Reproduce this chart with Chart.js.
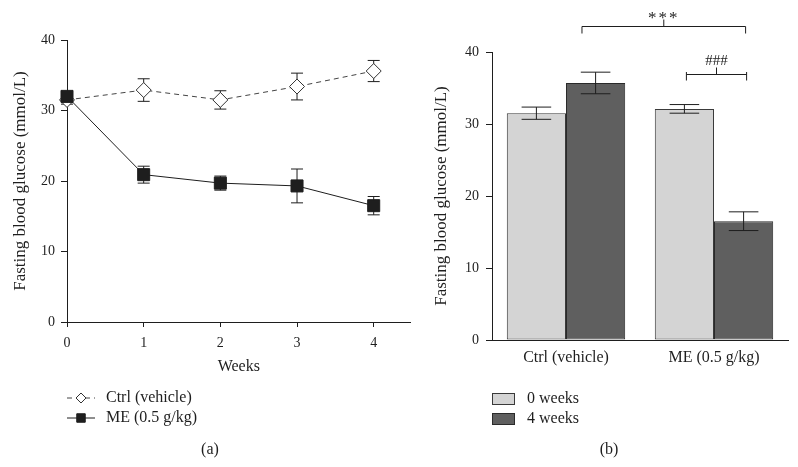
<!DOCTYPE html>
<html>
<head>
<meta charset="utf-8">
<script src="https://cdn.jsdelivr.net/npm/chart.js@4.4.0/dist/chart.umd.min.js"></script>
<style>
	html, body { margin: 0; padding: 0; background: #fff; }
	#wrap { position: relative; width: 798px; height: 467px; overflow: hidden; }
	#lineChart { position: absolute; left: 0; top: 0; }
	#barChart { position: absolute; left: 420px; top: 0; }
</style>
</head>
<body>
<div id="wrap">
	<canvas id="lineChart" width="420" height="467"></canvas>
	<canvas id="barChart" width="378" height="467"></canvas>
</div>
<script>
// panel (a): glucose over time
var weeks = [0, 1, 2, 3, 4];
var ctrlMean = [31.5, 32.9, 31.5, 33.4, 35.6];
var ctrlErr = [0.6, 1.6, 1.3, 1.9, 1.5];
var meMean = [32.0, 20.9, 19.7, 19.3, 16.5];
var meErr = [0.7, 1.2, 1.0, 2.4, 1.3];
var lineLabels = ['Ctrl (vehicle)', 'ME (0.5 g/kg)'];

// panel (b): before / after
var groups = ['Ctrl (vehicle)', 'ME (0.5 g/kg)'];
var barLabels = ['0 weeks', '4 weeks'];
var week0Mean = [31.5, 32.1];
var week0Err = [0.85, 0.6];
var week4Mean = [35.7, 16.5];
var week4Err = [1.5, 1.3];
var sigLabels = ['***', '###'];

var ink = '#1e1e1e';
var serif = '"Liberation Serif", "Times New Roman", serif';

Chart.defaults.font.family = serif;
Chart.defaults.font.size = 14;
Chart.defaults.color = ink;
Chart.defaults.animation = false;

// draw vertical error bars for every point / bar
var errorBarPlugin = {
	id: 'errorBars',
	draw: function(chart) {
		var ctx = chart.ctx;
		var y = chart.scales.y;
		ctx.save();
		ctx.strokeStyle = ink;
		ctx.lineWidth = 1;
		chart.data.datasets.forEach(function(ds, i) {
			var meta = chart.getDatasetMeta(i);
			meta.data.forEach(function(el, j) {
				var v = chart.config.type === 'bar' ? ds.data[j] : ds.data[j].y;
				var e = ds.errors[j];
				var top = y.getPixelForValue(v + e);
				var bot = y.getPixelForValue(v - e);
				var cap = el.width ? el.width * 0.25 : 6;
				ctx.beginPath();
				ctx.moveTo(el.x, top); ctx.lineTo(el.x, bot);
				ctx.moveTo(el.x - cap, top); ctx.lineTo(el.x + cap, top);
				ctx.moveTo(el.x - cap, bot); ctx.lineTo(el.x + cap, bot);
				ctx.stroke();
			});
		});
		ctx.restore();
	}
};

var lineErrors = { id: 'lineErrors', beforeDatasetsDraw: errorBarPlugin.draw };
var barErrors = { id: 'barErrors', afterDatasetsDraw: errorBarPlugin.draw };

// caption under each panel
function caption(chart, text) {
	var ctx = chart.ctx;
	ctx.save();
	ctx.font = '16px ' + serif;
	ctx.fillStyle = ink;
	ctx.textAlign = 'center';
	ctx.textBaseline = 'middle';
	ctx.fillText(text, chart.width / 2, 450);
	ctx.restore();
}

var lineLegend = {
	id: 'lineLegend',
	afterDraw: function(chart) {
		var ctx = chart.ctx;
		var a = chart.chartArea;
		ctx.save();
		ctx.font = '16px ' + serif;
		ctx.textBaseline = 'middle';
		chart.data.datasets.forEach(function(ds, i) {
			var yy = a.bottom + 76 + i * 20;
			var x0 = a.left;
			ctx.strokeStyle = ds.borderColor;
			ctx.lineWidth = 1;
			ctx.setLineDash(ds.borderDash || []);
			ctx.beginPath();
			ctx.moveTo(x0, yy); ctx.lineTo(x0 + 28, yy);
			ctx.stroke();
			ctx.setLineDash([]);
			ctx.fillStyle = ds.pointBackgroundColor;
			ctx.strokeStyle = ds.pointBorderColor;
			Chart.helpers.drawPoint(ctx, { pointStyle: ds.pointStyle, radius: i === 0 ? 5 : 6, borderWidth: 1, rotation: 0 }, x0 + 14, yy);
			ctx.fillStyle = ink;
			ctx.fillText(ds.label, x0 + 39, yy);
		});
		ctx.restore();
		caption(chart, '(a)');
	}
};

var barLegend = {
	id: 'barLegend',
	afterDraw: function(chart) {
		var ctx = chart.ctx;
		var a = chart.chartArea;
		ctx.save();
		ctx.font = '16px ' + serif;
		ctx.textBaseline = 'middle';
		chart.data.datasets.forEach(function(ds, i) {
			var top = a.bottom + 53 + i * 20;
			ctx.fillStyle = ds.backgroundColor;
			ctx.fillRect(a.left, top, 22, 11);
			ctx.strokeStyle = ds.borderColor;
			ctx.lineWidth = 1;
			ctx.strokeRect(a.left + 0.5, top + 0.5, 22, 11);
			ctx.fillStyle = ink;
			ctx.fillText(ds.label, a.left + 35, top + 6);
		});

		// significance brackets
		var y = chart.scales.y;
		var c4 = chart.getDatasetMeta(1).data;
		var c0 = chart.getDatasetMeta(0).data;
		var marks = [
			{ text: sigLabels[0], x1: c4[0].x - c4[0].width * 0.23, x2: c4[1].x + 2, level: 43.6, up: 0, down: 7, gap: 4 },
			{ text: sigLabels[1], x1: c0[1].x + 2, x2: c4[1].x + 3, level: 36.9, up: 2.5, down: 6, gap: 10 }
		];
		ctx.strokeStyle = ink;
		ctx.fillStyle = ink;
		ctx.textAlign = 'center';
		ctx.textBaseline = 'alphabetic';
		marks.forEach(function(m) {
			var yy = Math.round(y.getPixelForValue(m.level)) + 0.5;
			var mid = (m.x1 + m.x2) / 2;
			ctx.beginPath();
			ctx.moveTo(m.x1, yy); ctx.lineTo(m.x2, yy);
			ctx.moveTo(m.x1, yy - m.up); ctx.lineTo(m.x1, yy + m.down);
			ctx.moveTo(m.x2, yy - m.up); ctx.lineTo(m.x2, yy + m.down);
			ctx.moveTo(mid, yy); ctx.lineTo(mid, yy - 7);
			ctx.stroke();
			ctx.font = (m.text === '***' ? '17px ' : '15px ') + serif;
			ctx.letterSpacing = m.text === '***' ? '2px' : '0px';
			ctx.fillText(m.text, mid, yy - m.gap);
		});
		ctx.restore();
		caption(chart, '(b)');
	}
};

function points(values) {
	return weeks.map(function(w, i) { return { x: w, y: values[i] }; });
}

new Chart(document.getElementById('lineChart'), {
	type: 'line',
	data: {
		datasets: [{
			label: lineLabels[0],
			data: points(ctrlMean),
			errors: ctrlErr,
			borderColor: '#444',
			borderWidth: 1,
			borderDash: [5, 4],
			pointStyle: 'rectRot',
			pointRadius: 7.5,
			pointBackgroundColor: '#fff',
			pointBorderColor: '#333',
			pointBorderWidth: 1,
			clip: false,
			order: 1
		}, {
			label: lineLabels[1],
			data: points(meMean),
			errors: meErr,
			borderColor: ink,
			borderWidth: 1,
			pointStyle: 'rect',
			pointRadius: 8.5,
			pointBackgroundColor: ink,
			pointBorderColor: ink,
			pointBorderWidth: 1,
			clip: false,
			order: 0
		}]
	},
	options: {
		responsive: false,
		layout: { padding: { left: 0, top: 40, right: 7, bottom: 91 } },
		plugins: { legend: { display: false }, tooltip: { enabled: false } },
		scales: {
			x: {
				type: 'linear', min: 0, max: 4.48,
				ticks: { stepSize: 1, includeBounds: false, padding: 8 },
				grid: { drawOnChartArea: false, tickLength: 5, color: ink },
				border: { color: ink },
				title: { display: true, text: 'Weeks', font: { size: 16 }, padding: 0 },
				afterFit: function(s) { s.height = 54; }
			},
			y: {
				min: 0, max: 40,
				ticks: { stepSize: 10, padding: 6 },
				grid: { drawOnChartArea: false, tickLength: 6, color: ink },
				border: { color: ink },
				title: { display: true, text: 'Fasting blood glucose (mmol/L)', font: { size: 17 }, padding: { top: 10, bottom: 0 } },
				afterFit: function(s) { s.width = 67; }
			}
		}
	},
	plugins: [lineErrors, lineLegend]
});

new Chart(document.getElementById('barChart'), {
	type: 'bar',
	data: {
		labels: groups,
		datasets: [{
			label: barLabels[0],
			data: week0Mean,
			errors: week0Err,
			backgroundColor: '#d4d4d4',
			borderColor: '#3a3a3a',
			borderWidth: 1,
			borderSkipped: false
		}, {
			label: barLabels[1],
			data: week4Mean,
			errors: week4Err,
			backgroundColor: '#5f5f5f',
			borderColor: '#2a2a2a',
			borderWidth: 1,
			borderSkipped: false
		}]
	},
	options: {
		responsive: false,
		layout: { padding: { left: 0, top: 52, right: 10, bottom: 97 } },
		datasets: { bar: { categoryPercentage: 0.8, barPercentage: 1 } },
		plugins: { legend: { display: false }, tooltip: { enabled: false } },
		scales: {
			x: {
				ticks: { padding: 8, font: { size: 16 } },
				grid: { display: false, drawTicks: false },
				border: { display: true, color: ink },
				afterFit: function(s) { s.height = 30; }
			},
			y: {
				min: 0, max: 40,
				ticks: { stepSize: 10, padding: 7 },
				grid: { drawOnChartArea: false, tickLength: 6, color: ink },
				border: { color: ink },
				title: { display: true, text: 'Fasting blood glucose (mmol/L)', font: { size: 17 }, padding: { top: 11, bottom: 0 } },
				afterFit: function(s) { s.width = 72; }
			}
		}
	},
	plugins: [barErrors, barLegend]
});
</script>
</body>
</html>
